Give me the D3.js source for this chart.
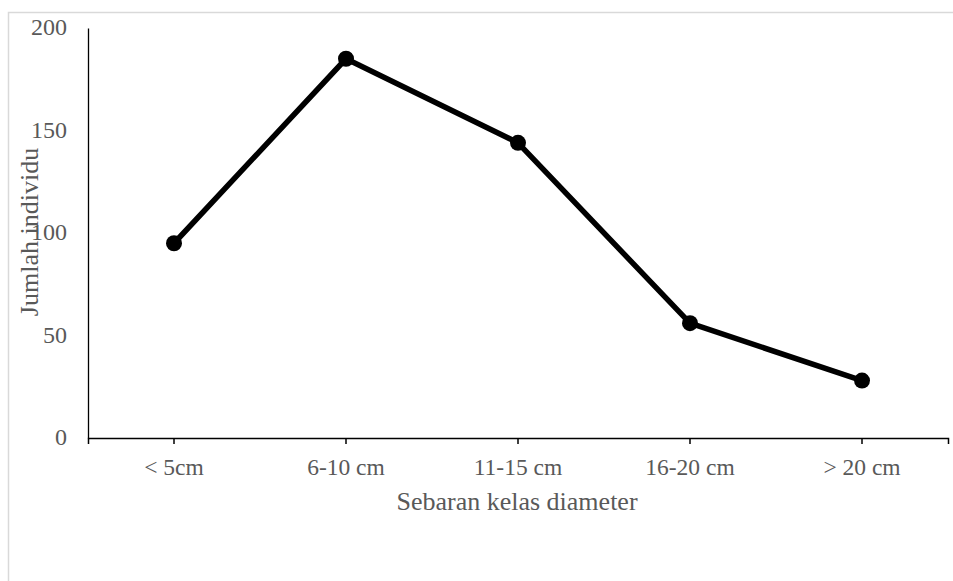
<!DOCTYPE html>
<html><head><meta charset="utf-8">
<script src="https://cdn.jsdelivr.net/npm/d3@7/dist/d3.min.js"></script>
<style>body{margin:0;background:#fff}svg{display:block}</style>
</head><body>
<script>
const categories = ["< 5cm", "6-10 cm", "11-15 cm", "16-20 cm", "> 20 cm"];
const values = [95, 185, 144, 56, 28];
const yTicks = [0, 50, 100, 150, 200];

const W = 953, H = 581;
const svg = d3.select("body").append("svg").attr("width", W).attr("height", H);
svg.append("rect").attr("x", 8.5).attr("y", 12.5).attr("width", W + 10).attr("height", H + 10)
  .attr("fill", "#fff").attr("stroke", "#d9d9d9").attr("stroke-width", 1.5);

const m = {l: 88, r: 946, t: 28, b: 438};
const x = d3.scaleBand().domain(categories).range([m.l, m.r + 2]);
const y = d3.scaleLinear().domain([0, 200]).range([m.b, m.t]);
const font = "'Liberation Serif','Times New Roman',serif";

// y axis
const ya = svg.append("g").attr("transform", `translate(${m.l},0)`)
  .call(d3.axisLeft(y).tickValues(yTicks).tickSize(0).tickPadding(21));
ya.select(".domain").attr("stroke", "#000").attr("stroke-width", 1.3);
ya.selectAll("text").attr("font-family", font).attr("font-size", 24).attr("fill", "#595959")
  .attr("dy", "0.28em");

// x axis
const xa = svg.append("g").attr("transform", `translate(0,${m.b})`)
  .call(d3.axisBottom(x).tickSize(6).tickSizeOuter(6).tickPadding(14));
xa.select(".domain").attr("stroke", "#000").attr("stroke-width", 1.5);
xa.selectAll(".tick line").attr("stroke", "#000").attr("stroke-width", 1.5);
xa.selectAll("text").attr("font-family", font).attr("font-size", 23.5).attr("fill", "#595959");

// titles
svg.append("text").attr("x", 517).attr("y", 510).attr("text-anchor", "middle")
  .attr("font-family", font).attr("font-size", 26).attr("fill", "#595959").text("Sebaran kelas diameter");
svg.append("text").attr("transform", `translate(38,232) rotate(-90)`).attr("text-anchor", "middle")
  .attr("font-family", font).attr("font-size", 26).attr("fill", "#595959").text("Jumlah individu");

// line
const cx = d => x(d) + x.bandwidth() / 2;
const data = categories.map((c, i) => ({c, v: values[i]}));
svg.append("path").datum(data).attr("fill", "none").attr("stroke", "#000").attr("stroke-width", 5.5)
  .attr("stroke-linejoin", "round")
  .attr("d", d3.line().x(d => cx(d.c)).y(d => y(d.v)));
svg.selectAll("circle.pt").data(data).join("circle").attr("class", "pt")
  .attr("cx", d => cx(d.c)).attr("cy", d => y(d.v)).attr("r", 8).attr("fill", "#000");
</script>
</body></html>
